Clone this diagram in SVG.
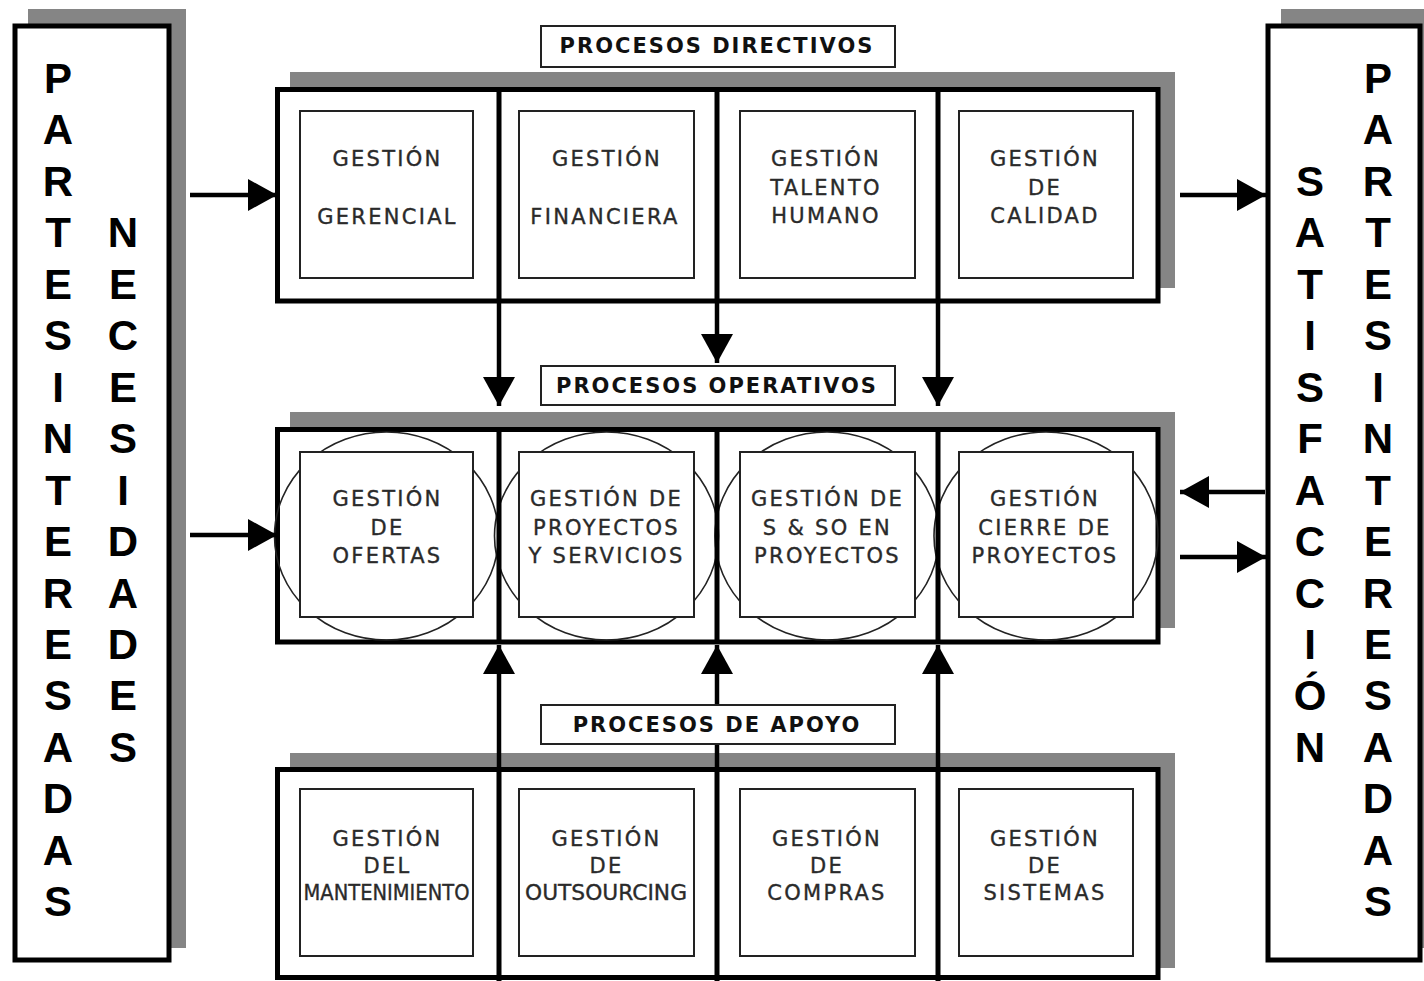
<svg xmlns="http://www.w3.org/2000/svg" width="1424" height="981" viewBox="0 0 1424 981">
  <defs>
    <style>
      .shadow { fill: #858585; }
      .frame { fill: #ffffff; stroke: #000000; stroke-width: 5; }
      .divider { stroke: #000000; stroke-width: 5; }
      .box { fill: #ffffff; stroke: #222222; stroke-width: 2; }
      .ring { fill: none; stroke: #222222; stroke-width: 1.6; }
      .label-box { fill: #ffffff; stroke: #222222; stroke-width: 2; }
      .label { font-family: "DejaVu Sans", Verdana, sans-serif; font-weight: bold; font-size: 21px; letter-spacing: 2px; fill: #111111; text-anchor: middle; }
      .node-text { font-family: "DejaVu Sans", Verdana, sans-serif; font-size: 21px; letter-spacing: 2.3px; fill: #2a2a2a; stroke: #2a2a2a; stroke-width: 0.35; text-anchor: middle; }
      .side { font-family: "Liberation Sans", Arial, sans-serif; font-weight: bold; font-size: 42px; fill: #000000; text-anchor: middle; }
      .wire { stroke: #000000; stroke-width: 4.5; fill: none; marker-end: url(#head); }
    </style>
    <marker id="head" markerUnits="userSpaceOnUse" markerWidth="30" markerHeight="32" refX="29" refY="16" orient="auto">
      <path d="M0,0 L29,16 L0,32 Z" fill="#000000"/>
    </marker>
  </defs>

  <rect width="1424" height="981" fill="#ffffff"/>

  <!-- Left column: stakeholders and their needs -->
  <g id="partes-interesadas-necesidades">
    <rect class="shadow" x="28" y="9" width="158" height="939"/>
    <rect class="frame" x="15" y="26" width="154" height="934"/>
    <g class="side">
      <text x="58" y="93">P</text>
      <text x="58" y="144">A</text>
      <text x="58" y="196">R</text>
      <text x="58" y="247">T</text>
      <text x="58" y="299">E</text>
      <text x="58" y="350">S</text>
      <text x="58" y="402">I</text>
      <text x="58" y="453">N</text>
      <text x="58" y="505">T</text>
      <text x="58" y="556">E</text>
      <text x="58" y="608">R</text>
      <text x="58" y="659">E</text>
      <text x="58" y="710">S</text>
      <text x="58" y="762">A</text>
      <text x="58" y="813">D</text>
      <text x="58" y="865">A</text>
      <text x="58" y="916">S</text>

      <text x="123" y="247">N</text>
      <text x="123" y="299">E</text>
      <text x="123" y="350">C</text>
      <text x="123" y="402">E</text>
      <text x="123" y="453">S</text>
      <text x="123" y="505">I</text>
      <text x="123" y="556">D</text>
      <text x="123" y="608">A</text>
      <text x="123" y="659">D</text>
      <text x="123" y="710">E</text>
      <text x="123" y="762">S</text>
    </g>
  </g>

  <!-- Right column: stakeholder satisfaction -->
  <g id="satisfaccion-partes-interesadas">
    <rect class="shadow" x="1281" y="9" width="160" height="939"/>
    <rect class="frame" x="1268" y="26" width="152" height="934"/>
    <g class="side">
      <text x="1310" y="196">S</text>
      <text x="1310" y="247">A</text>
      <text x="1310" y="299">T</text>
      <text x="1310" y="350">I</text>
      <text x="1310" y="402">S</text>
      <text x="1310" y="453">F</text>
      <text x="1310" y="505">A</text>
      <text x="1310" y="556">C</text>
      <text x="1310" y="608">C</text>
      <text x="1310" y="659">I</text>
      <text x="1310" y="710">Ó</text>
      <text x="1310" y="762">N</text>

      <text x="1378" y="93">P</text>
      <text x="1378" y="144">A</text>
      <text x="1378" y="196">R</text>
      <text x="1378" y="247">T</text>
      <text x="1378" y="299">E</text>
      <text x="1378" y="350">S</text>
      <text x="1378" y="402">I</text>
      <text x="1378" y="453">N</text>
      <text x="1378" y="505">T</text>
      <text x="1378" y="556">E</text>
      <text x="1378" y="608">R</text>
      <text x="1378" y="659">E</text>
      <text x="1378" y="710">S</text>
      <text x="1378" y="762">A</text>
      <text x="1378" y="813">D</text>
      <text x="1378" y="865">A</text>
      <text x="1378" y="916">S</text>
    </g>
  </g>

  <!-- Directive processes -->
  <g id="procesos-directivos">
    <rect class="shadow" x="290" y="72" width="885" height="216"/>
    <rect class="frame" x="277.5" y="89.5" width="880.5" height="211.5"/>
    <line class="divider" x1="499" y1="89.5" x2="499" y2="301"/>
    <line class="divider" x1="717" y1="89.5" x2="717" y2="301"/>
    <line class="divider" x1="938" y1="89.5" x2="938" y2="301"/>
    <g id="gestion-gerencial">
      <rect class="box" x="300" y="111" width="173" height="167"/>
      <text class="node-text" x="387.5" y="166">GESTIÓN</text>
      <text class="node-text" x="387.5" y="224">GERENCIAL</text>
    </g>
    <g id="gestion-financiera">
      <rect class="box" x="519" y="111" width="175" height="167"/>
      <text class="node-text" x="607" y="166">GESTIÓN</text>
      <text class="node-text" x="605" y="224">FINANCIERA</text>
    </g>
    <g id="gestion-talento-humano">
      <rect class="box" x="740" y="111" width="175" height="167"/>
      <text class="node-text" x="826" y="166">GESTIÓN</text>
      <text class="node-text" x="826" y="195">TALENTO</text>
      <text class="node-text" x="826" y="223">HUMANO</text>
    </g>
    <g id="gestion-calidad">
      <rect class="box" x="959" y="111" width="174" height="167"/>
      <text class="node-text" x="1045" y="166">GESTIÓN</text>
      <text class="node-text" x="1045" y="195">DE</text>
      <text class="node-text" x="1045" y="223">CALIDAD</text>
    </g>
  </g>

  <!-- Operative processes -->
  <g id="procesos-operativos">
    <rect class="shadow" x="290" y="412" width="885" height="216"/>
    <rect class="frame" x="277.5" y="429.5" width="880.5" height="212.5"/>
    <ellipse class="ring" cx="386.5" cy="536" rx="112" ry="104"/>
    <ellipse class="ring" cx="606.5" cy="536" rx="112" ry="104"/>
    <ellipse class="ring" cx="827" cy="536" rx="112" ry="104"/>
    <ellipse class="ring" cx="1046" cy="536" rx="112" ry="104"/>
    <line class="divider" x1="499" y1="429.5" x2="499" y2="642"/>
    <line class="divider" x1="717" y1="429.5" x2="717" y2="642"/>
    <line class="divider" x1="938" y1="429.5" x2="938" y2="642"/>
    <g id="gestion-ofertas">
      <rect class="box" x="300" y="452" width="173" height="165"/>
      <text class="node-text" x="387.5" y="506">GESTIÓN</text>
      <text class="node-text" x="387.5" y="535">DE</text>
      <text class="node-text" x="387.5" y="563">OFERTAS</text>
    </g>
    <g id="gestion-proyectos-servicios">
      <rect class="box" x="519" y="452" width="175" height="165"/>
      <text class="node-text" x="606.5" y="506">GESTIÓN DE</text>
      <text class="node-text" x="606.5" y="535">PROYECTOS</text>
      <text class="node-text" x="606.5" y="563">Y SERVICIOS</text>
    </g>
    <g id="gestion-s-so-proyectos">
      <rect class="box" x="740" y="452" width="175" height="165"/>
      <text class="node-text" x="827.5" y="506">GESTIÓN DE</text>
      <text class="node-text" x="827.5" y="535">S &amp; SO EN</text>
      <text class="node-text" x="827.5" y="563">PROYECTOS</text>
    </g>
    <g id="gestion-cierre-proyectos">
      <rect class="box" x="959" y="452" width="174" height="165"/>
      <text class="node-text" x="1045" y="506">GESTIÓN</text>
      <text class="node-text" x="1045" y="535">CIERRE DE</text>
      <text class="node-text" x="1045" y="563">PROYECTOS</text>
    </g>
  </g>

  <!-- Support processes -->
  <g id="procesos-apoyo">
    <rect class="shadow" x="290" y="753" width="885" height="215"/>
    <rect class="frame" x="277.5" y="769.5" width="880.5" height="208"/>
    <line class="divider" x1="499" y1="769.5" x2="499" y2="981"/>
    <line class="divider" x1="717" y1="769.5" x2="717" y2="981"/>
    <line class="divider" x1="938" y1="769.5" x2="938" y2="981"/>
    <g id="gestion-mantenimiento">
      <rect class="box" x="300" y="789" width="173" height="167"/>
      <text class="node-text" x="387.5" y="846">GESTIÓN</text>
      <text class="node-text" x="387.5" y="873">DEL</text>
      <text class="node-text" x="386.5" y="900" style="letter-spacing:0px" textLength="166" lengthAdjust="spacingAndGlyphs">MANTENIMIENTO</text>
    </g>
    <g id="gestion-outsourcing">
      <rect class="box" x="519" y="789" width="175" height="167"/>
      <text class="node-text" x="606.5" y="846">GESTIÓN</text>
      <text class="node-text" x="606.5" y="873">DE</text>
      <text class="node-text" x="606" y="900" style="letter-spacing:0px" textLength="162" lengthAdjust="spacingAndGlyphs">OUTSOURCING</text>
    </g>
    <g id="gestion-compras">
      <rect class="box" x="740" y="789" width="175" height="167"/>
      <text class="node-text" x="827" y="846">GESTIÓN</text>
      <text class="node-text" x="827" y="873">DE</text>
      <text class="node-text" x="827" y="900">COMPRAS</text>
    </g>
    <g id="gestion-sistemas">
      <rect class="box" x="959" y="789" width="174" height="167"/>
      <text class="node-text" x="1045" y="846">GESTIÓN</text>
      <text class="node-text" x="1045" y="873">DE</text>
      <text class="node-text" x="1045" y="900">SISTEMAS</text>
    </g>
  </g>

  <!-- Flows between columns and process layers -->
  <g id="connectors">
    <line class="wire" x1="190" y1="195" x2="277" y2="195"/>
    <line class="wire" x1="190" y1="535" x2="277" y2="535"/>
    <line class="wire" x1="1180" y1="195" x2="1266" y2="195"/>
    <line class="wire" x1="1265" y1="492" x2="1180" y2="492"/>
    <line class="wire" x1="1180" y1="557" x2="1266" y2="557"/>

    <line class="wire" x1="499" y1="301" x2="499" y2="406"/>
    <line class="wire" x1="717" y1="301" x2="717" y2="363"/>
    <line class="wire" x1="938" y1="301" x2="938" y2="406"/>

    <line class="wire" x1="499" y1="770" x2="499" y2="645"/>
    <line class="wire" x1="717" y1="770" x2="717" y2="645"/>
    <line class="wire" x1="938" y1="770" x2="938" y2="645"/>
  </g>

  <!-- Layer titles -->
  <g id="titulo-directivos">
    <rect class="label-box" x="541" y="26" width="354" height="41"/>
    <text class="label" x="717" y="53">PROCESOS DIRECTIVOS</text>
  </g>
  <g id="titulo-operativos">
    <rect class="label-box" x="541" y="366" width="354" height="39"/>
    <text class="label" x="717" y="393">PROCESOS OPERATIVOS</text>
  </g>
  <g id="titulo-apoyo">
    <rect class="label-box" x="541" y="705" width="354" height="39"/>
    <text class="label" x="717" y="732">PROCESOS DE APOYO</text>
  </g>
</svg>
